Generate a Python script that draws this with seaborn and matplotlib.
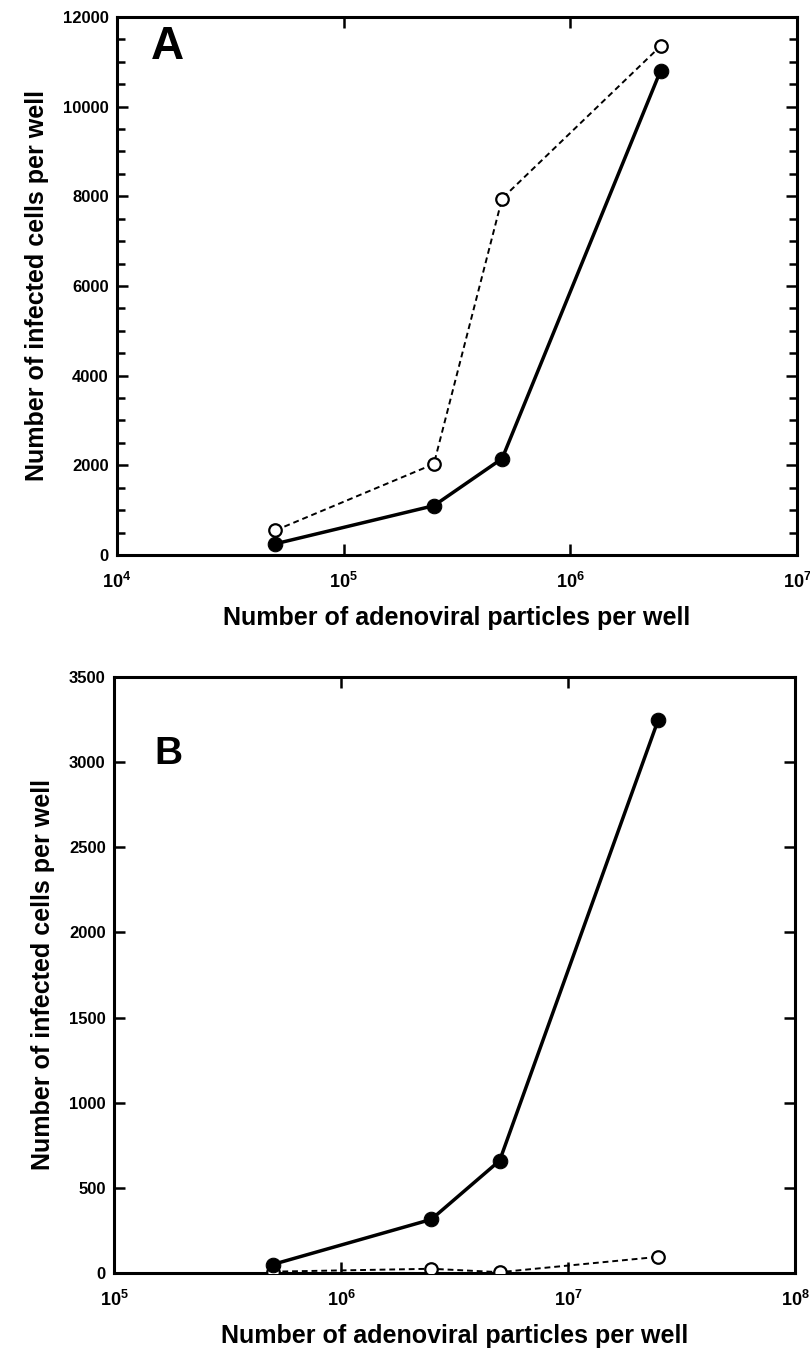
import numpy as np
import pandas as pd
import matplotlib
matplotlib.use("Agg")
import matplotlib.pyplot as plt
import matplotlib.ticker as mticker
import seaborn as sns

# === Data ===
particles_a = [5e4, 2.5e5, 5e5, 2.5e6]
filled_a = [250, 1100, 2150, 10800]
open_a = [550, 2030, 7950, 11350]

particles_b = [5e5, 2.5e6, 5e6, 2.5e7]
filled_b = [50, 315, 660, 3250]
open_b = [8, 25, 5, 95]

xlabel = "Number of adenoviral particles per well"
ylabel = "Number of infected cells per well"

# === Style ===
sns.set_style("ticks")
plt.rcParams['font.family'] = ['Liberation Sans', 'DejaVu Sans']
plt.rcParams['font.weight'] = 'bold'
plt.rcParams['text.color'] = 'black'
plt.rcParams['axes.labelcolor'] = 'black'
plt.rcParams['xtick.color'] = 'black'
plt.rcParams['ytick.color'] = 'black'
plt.rcParams['mathtext.fontset'] = 'custom'
plt.rcParams['mathtext.bf'] = 'Liberation Sans:bold'
plt.rcParams['mathtext.rm'] = 'Liberation Sans:bold'

fig = plt.figure(figsize=(8.1, 13.55), dpi=100)
ax_a = fig.add_axes([0.1444, 0.5904, 0.8396, 0.3971])
ax_b = fig.add_axes([0.1407, 0.0605, 0.8408, 0.4399])


def draw(ax, x, filled, opened):
    df_f = pd.DataFrame({"x": x, "y": filled})
    df_o = pd.DataFrame({"x": x, "y": opened})
    sns.lineplot(data=df_o, x="x", y="y", ax=ax, color="black", lw=1.4,
                 linestyle=(0, (3, 2)), marker="o", markersize=9,
                 markerfacecolor="white", markeredgecolor="black",
                 markeredgewidth=1.6, zorder=3)
    sns.lineplot(data=df_f, x="x", y="y", ax=ax, color="black", lw=2.5,
                 marker="o", markersize=10.5, markerfacecolor="black",
                 markeredgecolor="black", zorder=4)


def dec_fmt(v, pos):
    return r"$\mathbf{10^{%d}}$" % int(round(np.log10(v)))


def style(ax, xlim, ylim, ymajor, yminor, letter, lpos, lsize):
    ax.set_xscale("log")
    ax.set_xlim(*xlim)
    ax.set_ylim(*ylim)
    ax.xaxis.set_major_locator(mticker.LogLocator(base=10, numticks=10))
    ax.xaxis.set_minor_locator(mticker.NullLocator())
    ax.xaxis.set_major_formatter(mticker.FuncFormatter(dec_fmt))
    ax.yaxis.set_major_locator(mticker.MultipleLocator(ymajor))
    if yminor:
        ax.yaxis.set_minor_locator(mticker.MultipleLocator(yminor))
    ax.tick_params(axis="both", which="both", direction="in",
                   top=True, right=True, width=1.8, colors="black")
    ax.tick_params(axis="both", which="major", length=8)
    ax.tick_params(axis="both", which="minor", length=6)
    ax.tick_params(axis="x", labelsize=13, pad=12)
    ax.tick_params(axis="y", labelsize=12, pad=6)
    for lab in ax.get_yticklabels():
        lab.set_fontweight("bold")
    for s in ax.spines.values():
        s.set_linewidth(2.2)
        s.set_color("black")
    ax.set_xlabel(xlabel, fontsize=18, fontweight="bold", labelpad=10,
                  color="black")
    ax.set_ylabel(ylabel, fontsize=18, fontweight="bold", labelpad=10,
                  color="black")
    ax.text(lpos[0], lpos[1], letter, transform=ax.transAxes, fontsize=lsize,
            fontweight="bold", va="center", ha="left", color="black")
    ax.grid(False)


draw(ax_a, particles_a, filled_a, open_a)
style(ax_a, (1e4, 1e7), (0, 12000), 2000, 500, "A", (0.05, 0.945), 33)

draw(ax_b, particles_b, filled_b, open_b)
style(ax_b, (1e5, 1e8), (0, 3500), 500, None, "B", (0.06, 0.87), 28)

fig.savefig("out.png", dpi=100)
